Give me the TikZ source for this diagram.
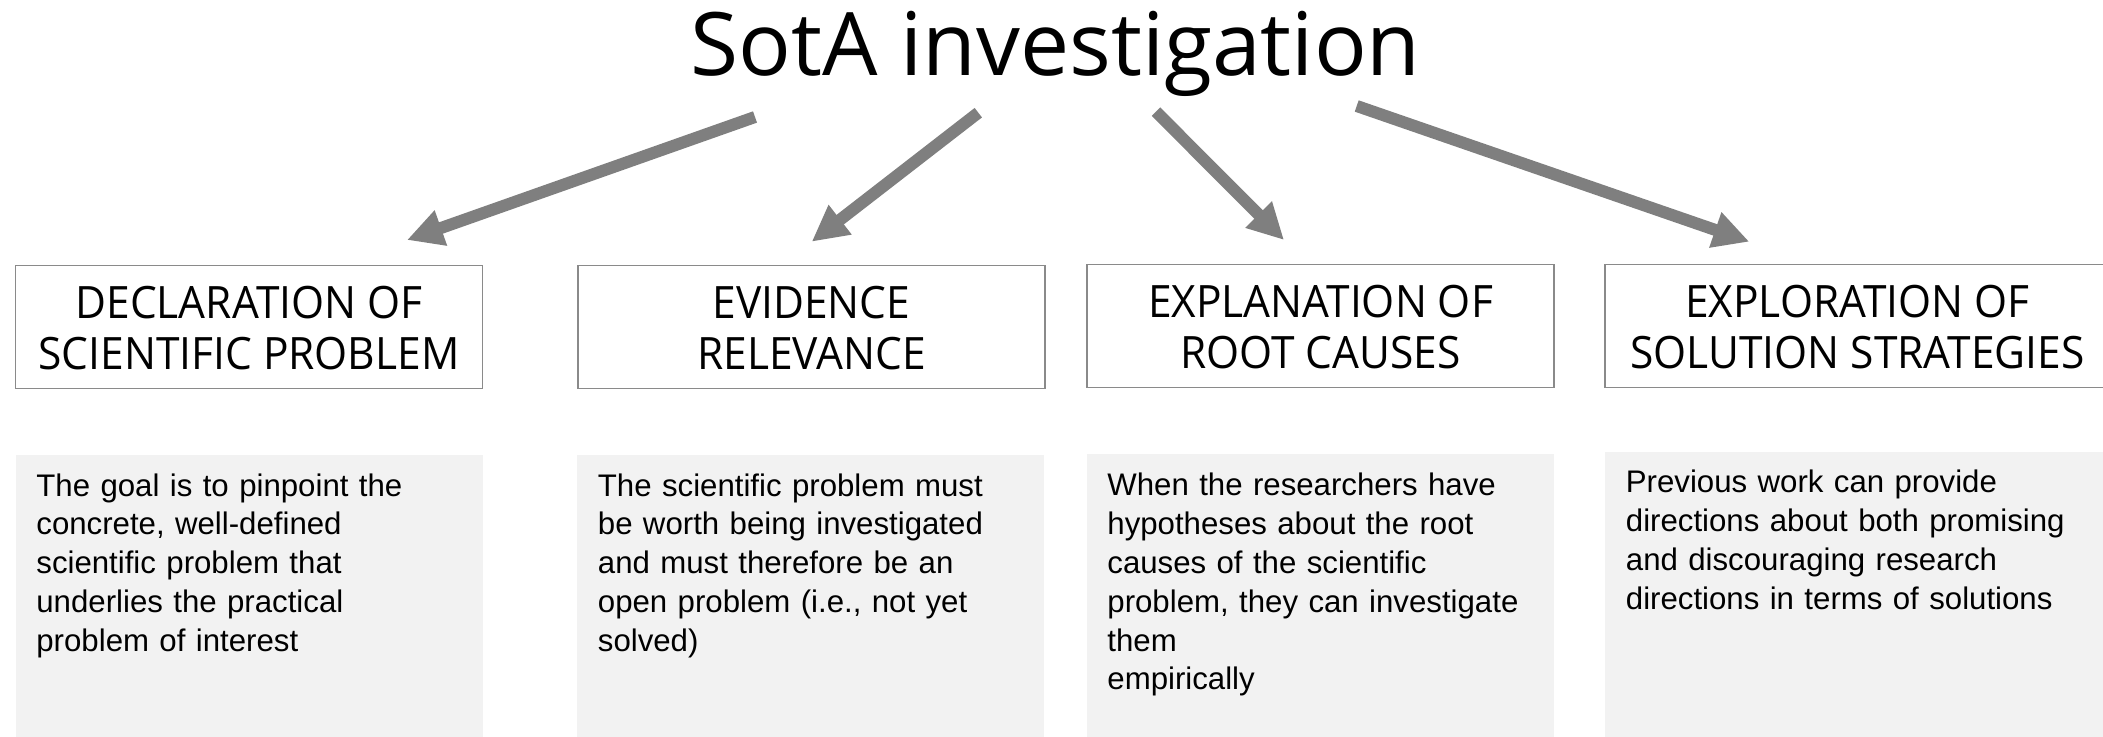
\documentclass[tikz,border=0pt]{standalone}
\usepackage{fontspec}
\setmainfont{Open Sans}
\newfontfamily\hdrfont[FakeStretch=0.952]{Open Sans}
\newfontfamily\bodyfont{Liberation Sans}
\usetikzlibrary{arrows.meta,calc}
\definecolor{arrowgray}{HTML}{7F7F7F}
\definecolor{boxgray}{HTML}{8A8A8A}
\definecolor{fillgray}{HTML}{F2F2F2}
\begin{document}
\begin{tikzpicture}[x=0.5pt,y=-0.5pt,
  hdrbox/.style={draw=boxgray,line width=0.75pt,inner sep=0pt,outer sep=0pt,minimum width=233.5pt,minimum height=61.5pt},
  hdrtext/.style={align=center,font=\hdrfont\fontsize{22.3}{25.5}\selectfont,inner sep=0pt},
  graybox/.style={fill=fillgray,inner sep=0pt,outer sep=0pt,anchor=north west,minimum width=233.5pt},
  bodytext/.style={anchor=north west,inner sep=0pt,align=left,text width=250pt,font=\bodyfont\fontsize{15.6}{19.45}\selectfont},
  conn/.style={draw=arrowgray,line width=6pt,-{Triangle[length=18pt,width=17.5pt]}}]
\useasboundingbox (0,0) rectangle (2103,737);
% title
\node[font=\fontsize{43.8}{50}\selectfont,anchor=base,inner sep=0pt] (title) at (1055.5,76) {SotA investigation};
% header boxes
\node[hdrbox] (h1) at (249,327) {};
\node[hdrbox] (h2) at (811.5,327) {};
\node[hdrbox] (h3) at (1320.5,326) {};
\node[hdrbox,minimum width=252.5pt] (h4) at (1857.5,326) {};
\node[hdrtext] (t1) at ($(h1.center)+(0,1)$) {DECLARATION OF\\SCIENTIFIC PROBLEM};
\node[hdrtext] (t2) at ($(h2.center)+(0,1)$) {EVIDENCE\\RELEVANCE};
\node[hdrtext] (t3) at ($(h3.center)+(0,1)$) {EXPLANATION OF\\ROOT CAUSES};
\node[hdrtext] (t4) at ($(h4.center)+(0,1)$) {EXPLORATION OF\\SOLUTION STRATEGIES};
% gray boxes
\node[graybox,minimum height=142.5pt] (g1) at (16,455) {};
\node[graybox,minimum height=142.5pt] (g2) at (577,455) {};
\node[graybox,minimum height=143pt] (g3) at (1087,454) {};
\node[graybox,minimum height=144pt,minimum width=252.5pt] (g4) at (1605,452) {};
% body texts
\node[bodytext] (b1) at (36,471.7) {\rule{0pt}{12pt}The goal is to pinpoint the\\concrete, well-defined\\scientific problem that\\underlies the practical\\problem of interest};
\node[bodytext] (b2) at (597.5,471.7) {\rule{0pt}{12pt}The scientific problem must\\be worth being investigated\\and must therefore be an\\open problem (i.e., not yet\\solved)};
\node[bodytext] (b3) at (1107,471) {\rule{0pt}{12pt}When the researchers have\\hypotheses about the root\\causes of the scientific\\problem, they can investigate\\them\\empirically};
\node[bodytext] (b4) at (1625.5,468.3) {\rule{0pt}{12pt}Previous work can provide\\directions about both promising\\and discouraging research\\directions in terms of solutions};
% arrows
\coordinate (s1) at (755,117);
\coordinate (e1) at (407,240);
\coordinate (s2) at (978.3,112.7);
\coordinate (e2) at (811.7,241.7);
\coordinate (s3) at (1156,111.7);
\coordinate (e3) at (1284,240);
\coordinate (s4) at (1356.7,106);
\coordinate (e4) at (1749.3,241.7);
\draw[conn] (s1) -- (e1);
\draw[conn] (s2) -- (e2);
\draw[conn] (s3) -- (e3);
\draw[conn] (s4) -- (e4);
\end{tikzpicture}
\end{document}
